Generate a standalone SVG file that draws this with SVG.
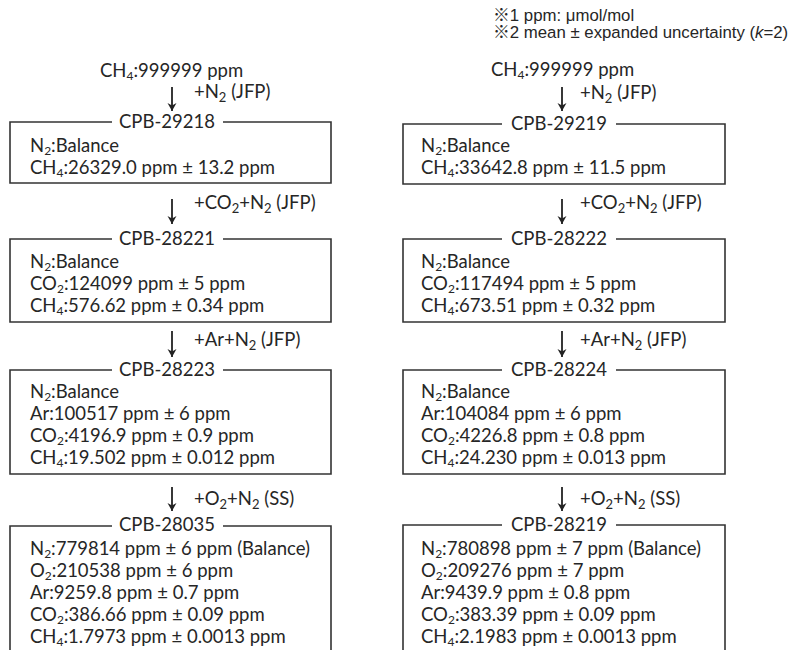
<svg xmlns="http://www.w3.org/2000/svg" width="811" height="650" viewBox="0 0 811 650">
<defs>
<style>
text{font-family:Lato,"Open Sans","Liberation Sans",sans-serif;font-size:18.5px;fill:#262626}
.s{font-size:12px}
.t{text-anchor:middle}
.lbl{font-size:19.8px}
.lbl .s{font-size:13px}
.note{font-family:"Liberation Sans","Noto Sans CJK JP",sans-serif;font-size:16.8px}
.km{font-family:"Noto Sans CJK JP",sans-serif;fill:#262626}
.box{fill:none;stroke:#333;stroke-width:1.6}
.arr{stroke:#222;stroke-width:1.8;fill:none;marker-end:url(#ah)}
</style>
<marker id="ah" markerUnits="userSpaceOnUse" markerWidth="10" markerHeight="12" viewBox="-9 -6 10 12" refX="0" refY="0" orient="auto" overflow="visible">
<path d="M-8,-4.5 L0,0 L-8,4.5 L-5.5,0 Z" fill="#222"/>
</marker>
</defs>

<g id="notes">
<text class="note" x="493" y="21"><tspan class="km">※</tspan>1 ppm: μmol/mol</text>
<text class="note" x="493" y="38"><tspan class="km">※</tspan>2 mean ± expanded uncertainty (<tspan font-style="italic">k</tspan>=2)</text>
</g>

<g id="source-left"><text x="100" y="77">CH<tspan class="s" dy="3">4</tspan><tspan dy="-3">:999999 ppm</tspan></text></g>
<g id="source-right"><text x="491" y="76">CH<tspan class="s" dy="3">4</tspan><tspan dy="-3">:999999 ppm</tspan></text></g>

<g id="connectors">
<line class="arr" x1="172" y1="87" x2="172" y2="111"/>
<line class="arr" x1="172" y1="199" x2="172" y2="224"/>
<line class="arr" x1="172" y1="331" x2="172" y2="357"/>
<line class="arr" x1="172" y1="487" x2="172" y2="511"/>
<line class="arr" x1="562" y1="87" x2="562" y2="111"/>
<line class="arr" x1="562" y1="199" x2="562" y2="224"/>
<line class="arr" x1="562" y1="331" x2="562" y2="357"/>
<line class="arr" x1="562" y1="487" x2="562" y2="511"/>
<g class="lbl">
<text x="194" y="98">+N<tspan class="s" dy="4">2</tspan><tspan dy="-4"> (JFP)</tspan></text>
<text x="194" y="209">+CO<tspan class="s" dy="4">2</tspan><tspan dy="-4">+N</tspan><tspan class="s" dy="4">2</tspan><tspan dy="-4"> (JFP)</tspan></text>
<text x="194" y="346">+Ar+N<tspan class="s" dy="4">2</tspan><tspan dy="-4"> (JFP)</tspan></text>
<text x="194" y="505">+O<tspan class="s" dy="4">2</tspan><tspan dy="-4">+N</tspan><tspan class="s" dy="4">2</tspan><tspan dy="-4"> (SS)</tspan></text>
<text x="580" y="99">+N<tspan class="s" dy="4">2</tspan><tspan dy="-4"> (JFP)</tspan></text>
<text x="580" y="209">+CO<tspan class="s" dy="4">2</tspan><tspan dy="-4">+N</tspan><tspan class="s" dy="4">2</tspan><tspan dy="-4"> (JFP)</tspan></text>
<text x="580" y="346">+Ar+N<tspan class="s" dy="4">2</tspan><tspan dy="-4"> (JFP)</tspan></text>
<text x="580" y="505">+O<tspan class="s" dy="4">2</tspan><tspan dy="-4">+N</tspan><tspan class="s" dy="4">2</tspan><tspan dy="-4"> (SS)</tspan></text>
</g>
</g>

<g id="CPB-29218">
<path class="box" d="M112,122 H10 V183 H331 V122 H223"/>
<text class="t" x="167" y="128">CPB-29218</text>
<text x="30" y="152">N<tspan class="s" dy="3">2</tspan><tspan dy="-3">:Balance</tspan></text>
<text x="30" y="174">CH<tspan class="s" dy="3">4</tspan><tspan dy="-3">:26329.0 ppm ± 13.2 ppm</tspan></text>
</g>

<g id="CPB-29219">
<path class="box" d="M502,124 H403 V184 H725 V124 H616"/>
<text class="t" x="559" y="130">CPB-29219</text>
<text x="421" y="152">N<tspan class="s" dy="3">2</tspan><tspan dy="-3">:Balance</tspan></text>
<text x="421" y="174">CH<tspan class="s" dy="3">4</tspan><tspan dy="-3">:33642.8 ppm ± 11.5 ppm</tspan></text>
</g>

<g id="CPB-28221">
<path class="box" d="M112,239 H10 V322 H331 V239 H223"/>
<text class="t" x="167" y="245">CPB-28221</text>
<text x="30" y="268">N<tspan class="s" dy="3">2</tspan><tspan dy="-3">:Balance</tspan></text>
<text x="30" y="290">CO<tspan class="s" dy="3">2</tspan><tspan dy="-3">:124099 ppm ± 5 ppm</tspan></text>
<text x="30" y="312">CH<tspan class="s" dy="3">4</tspan><tspan dy="-3">:576.62 ppm ± 0.34 ppm</tspan></text>
</g>

<g id="CPB-28222">
<path class="box" d="M502,239 H403 V322 H725 V239 H616"/>
<text class="t" x="559" y="245">CPB-28222</text>
<text x="421" y="268">N<tspan class="s" dy="3">2</tspan><tspan dy="-3">:Balance</tspan></text>
<text x="421" y="290">CO<tspan class="s" dy="3">2</tspan><tspan dy="-3">:117494 ppm ± 5 ppm</tspan></text>
<text x="421" y="312">CH<tspan class="s" dy="3">4</tspan><tspan dy="-3">:673.51 ppm ± 0.32 ppm</tspan></text>
</g>

<g id="CPB-28223">
<path class="box" d="M112,370 H10 V474 H331 V370 H223"/>
<text class="t" x="167" y="376">CPB-28223</text>
<text x="30" y="398">N<tspan class="s" dy="3">2</tspan><tspan dy="-3">:Balance</tspan></text>
<text x="30" y="420">Ar:100517 ppm ± 6 ppm</text>
<text x="30" y="442">CO<tspan class="s" dy="3">2</tspan><tspan dy="-3">:4196.9 ppm ± 0.9 ppm</tspan></text>
<text x="30" y="464">CH<tspan class="s" dy="3">4</tspan><tspan dy="-3">:19.502 ppm ± 0.012 ppm</tspan></text>
</g>

<g id="CPB-28224">
<path class="box" d="M502,370 H403 V474 H725 V370 H616"/>
<text class="t" x="559" y="376">CPB-28224</text>
<text x="421" y="398">N<tspan class="s" dy="3">2</tspan><tspan dy="-3">:Balance</tspan></text>
<text x="421" y="420">Ar:104084 ppm ± 6 ppm</text>
<text x="421" y="442">CO<tspan class="s" dy="3">2</tspan><tspan dy="-3">:4226.8 ppm ± 0.8 ppm</tspan></text>
<text x="421" y="464">CH<tspan class="s" dy="3">4</tspan><tspan dy="-3">:24.230 ppm ± 0.013 ppm</tspan></text>
</g>

<g id="CPB-28035">
<path class="box" d="M112,526 H10 V660 M331,660 V526 H223"/>
<text class="t" x="167" y="531">CPB-28035</text>
<text x="30" y="555">N<tspan class="s" dy="3">2</tspan><tspan dy="-3">:779814 ppm ± 6 ppm (Balance)</tspan></text>
<text x="30" y="577">O<tspan class="s" dy="3">2</tspan><tspan dy="-3">:210538 ppm ± 6 ppm</tspan></text>
<text x="30" y="599">Ar:9259.8 ppm ± 0.7 ppm</text>
<text x="30" y="621">CO<tspan class="s" dy="3">2</tspan><tspan dy="-3">:386.66 ppm ± 0.09 ppm</tspan></text>
<text x="30" y="643">CH<tspan class="s" dy="3">4</tspan><tspan dy="-3">:1.7973 ppm ± 0.0013 ppm</tspan></text>
</g>

<g id="CPB-28219">
<path class="box" d="M502,525 H403 V660 M725,660 V525 H616"/>
<text class="t" x="559" y="531">CPB-28219</text>
<text x="421" y="555">N<tspan class="s" dy="3">2</tspan><tspan dy="-3">:780898 ppm ± 7 ppm (Balance)</tspan></text>
<text x="421" y="577">O<tspan class="s" dy="3">2</tspan><tspan dy="-3">:209276 ppm ± 7 ppm</tspan></text>
<text x="421" y="599">Ar:9439.9 ppm ± 0.8 ppm</text>
<text x="421" y="621">CO<tspan class="s" dy="3">2</tspan><tspan dy="-3">:383.39 ppm ± 0.09 ppm</tspan></text>
<text x="421" y="643">CH<tspan class="s" dy="3">4</tspan><tspan dy="-3">:2.1983 ppm ± 0.0013 ppm</tspan></text>
</g>
</svg>
